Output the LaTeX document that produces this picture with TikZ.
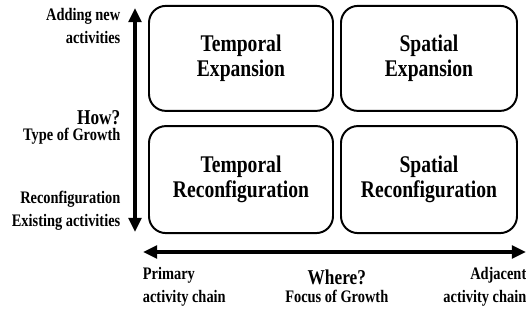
\documentclass[tikz,border=0pt]{standalone}
\usepackage{fontspec}
\setmainfont{Liberation Serif}[FakeStretch=0.82]
\usetikzlibrary{arrows.meta}
\tikzset{
  quad/.style={draw, line width=1.4pt, rounded corners=12pt, align=center,
    font=\bfseries\fontsize{17}{18}\selectfont},
  axislabel/.style={align=right, inner sep=1pt, font=\bfseries\fontsize{12.5}{16.5}\selectfont},
  axistitle/.style={inner sep=1pt, font=\bfseries\fontsize{15}{16}\selectfont},
  growth/.style={{Triangle[length=10pt,width=9pt]}-{Triangle[length=10pt,width=9pt]}}
}
\begin{document}
\begin{tikzpicture}
  \useasboundingbox (0,0) rectangle (13.15,8);
  % Four quadrants
  \node[quad, minimum width=4.6cm, minimum height=2.625cm] (tempexp) at (6.025, 6.54) {Temporal\\Expansion};
  \node[quad, minimum width=4.4cm, minimum height=2.625cm] (spatexp) at (10.725, 6.54) {Spatial\\Expansion};
  \node[quad, minimum width=4.6cm, minimum height=2.675cm] (temprec) at (6.025, 3.51) {Temporal\\Reconfiguration};
  \node[quad, minimum width=4.4cm, minimum height=2.675cm] (spatrec) at (10.725, 3.51) {Spatial\\Reconfiguration};

  % How? axis
  \coordinate (howtop) at (3.375, 7.8);
  \coordinate (howbot) at (3.375, 2.2);
  \draw[growth, line width=2.2pt] (howbot) -- (howtop);
  \node[axislabel, anchor=east] (adding) at (3.05, 7.35) {Adding new\\activities};
  \node[axistitle, anchor=east] (how) at (3.05, 5.07) {How?};
  \node[axislabel, anchor=east] (typeg) at (3.05, 4.6) {Type of Growth};
  \node[axislabel, anchor=east] (reconf) at (3.05, 2.73) {Reconfiguration\\Existing activities};

  % Where? axis
  \coordinate (whereleft) at (3.575, 1.7);
  \coordinate (whereright) at (13.15, 1.7);
  \draw[growth, line width=2.8pt] (whereleft) -- (whereright);
  \node[axislabel, align=left, anchor=west] (primary) at (3.53, 0.83) {Primary\\activity chain};
  \node[axistitle] (where) at (8.42, 1.07) {Where?};
  \node[axislabel] (focusg) at (8.42, 0.58) {Focus of Growth};
  \node[axislabel, anchor=east] (adjacent) at (13.2, 0.83) {Adjacent\\activity chain};
\end{tikzpicture}
\end{document}
